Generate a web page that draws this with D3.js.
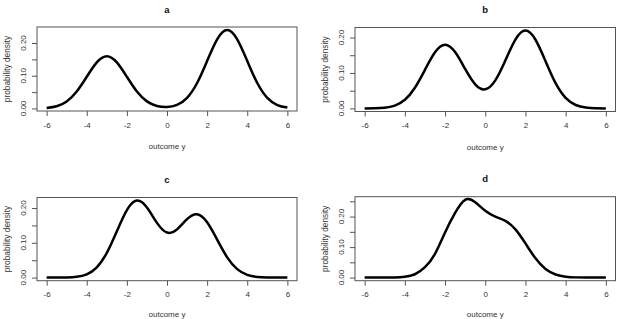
<!DOCTYPE html>
<html>
<head>
<meta charset="utf-8">
<script src="https://cdn.jsdelivr.net/npm/d3@7"></script>
<style>
  body { margin: 0; background: #fff; }
  svg { display: block; font-family: "Liberation Sans", Arial, sans-serif; }
</style>
</head>
<body>
<svg id="densities" width="620" height="319"></svg>
<script>
(() => {

    // chart values
    const outcome_y = [-6, -5.5, -5, -4.5, -4, -3.5, -3, -2.5, -2, -1.5, -1, -0.5, 0,
        0.5, 1, 1.5, 2, 2.5, 3, 3.5, 4, 4.5, 5, 5.5, 6];

    const density_a = [0.0018, 0.0070, 0.0216, 0.0518, 0.0968, 0.1408, 0.1596, 0.1408, 0.0968, 0.0518, 0.0217, 0.0075, 0.0044,
        0.0109, 0.0325, 0.0777, 0.1452, 0.2113, 0.2394, 0.2113, 0.1452, 0.0777, 0.0324, 0.0105, 0.0027];

    const density_b = [0.0001, 0.0004, 0.0020, 0.0079, 0.0243, 0.0583, 0.1089, 0.1584, 0.1796, 0.1589, 0.1113, 0.0679, 0.0540,
        0.0791, 0.1351, 0.1941, 0.2195, 0.1937, 0.1331, 0.0712, 0.0297, 0.0096, 0.0024, 0.0005, 0.0001];

    const density_c = [0.0000, 0.0001, 0.0005, 0.0024, 0.0096, 0.0297, 0.0712, 0.1332, 0.1941, 0.2214, 0.2016, 0.1574, 0.1295,
        0.1386, 0.1680, 0.1819, 0.1589, 0.1090, 0.0583, 0.0243, 0.0079, 0.0020, 0.0004, 0.0001, 0.0000];

    const density_d = [0.0000, 0.0000, 0.0001, 0.0005, 0.0030, 0.0110, 0.0340, 0.0780, 0.1480, 0.2120, 0.2550, 0.2470, 0.2190,
        0.2000, 0.1860, 0.1580, 0.1120, 0.0630, 0.0280, 0.0100, 0.0030, 0.0007, 0.0001, 0.0000, 0.0000];

    const x_ticks = [-6, -4, -2, 0, 2, 4, 6];
    const y_ticks_short = [0, 0.05, 0.1, 0.15, 0.2];
    const y_ticks_long = [0, 0.05, 0.1, 0.15, 0.2, 0.25];
    const y_tick_labels = [0, 0.1, 0.2];
    const panel_titles = ['a', 'b', 'c', 'd'];

    // plot boxes (left, right, top, bottom) in page pixels
    const boxes = [
        { l: 37, r: 297, t: 27, b: 111 },
        { l: 355, r: 615.5, t: 27.5, b: 111.5 },
        { l: 37, r: 297, t: 197.5, b: 280.7 },
        { l: 355, r: 615.5, t: 196.7, b: 280.7 }
    ];
    const series = [density_a, density_b, density_c, density_d];
    const y_ticks = [y_ticks_short, y_ticks_short, y_ticks_short, y_ticks_long];

    const text_color = '#333';
    const axis_color = '#555';

    let svg = d3.select('#densities');

    // R style 4% axis extension
    let pad = (lo, hi) => [lo - 0.04 * (hi - lo), hi + 0.04 * (hi - lo)];

    panel_titles.forEach((title, i) => {
        let box = boxes[i];
        let values = series[i];

        let x_scale = d3.scaleLinear()
            .domain(pad(d3.min(outcome_y), d3.max(outcome_y)))
            .range([box.l, box.r]);

        let y_scale = d3.scaleLinear()
            .domain(pad(d3.min(values), d3.max(values)))
            .range([box.b, box.t]);

        let g = svg.append('g');

        // box
        g.append('rect')
            .attr('x', box.l)
            .attr('y', box.t)
            .attr('width', box.r - box.l)
            .attr('height', box.b - box.t)
            .attr('fill', 'none')
            .attr('stroke', axis_color)
            .attr('stroke-width', 1);

        // x axis
        let x_axis = d3.axisBottom(x_scale)
            .tickValues(x_ticks)
            .tickSize(5)
            .tickPadding(6)
            .tickFormat((d) => String(d));

        let xg = g.append('g')
            .attr('transform', `translate(0, ${box.b})`)
            .call(x_axis);
        xg.select('.domain').remove();
        xg.selectAll('line').attr('stroke', axis_color);
        xg.selectAll('text')
            .attr('fill', text_color)
            .style('font-size', '8px')
            .style('font-family', '"Liberation Sans", Arial, sans-serif');

        // y axis, tick labels parallel to the axis
        let y_axis = d3.axisLeft(y_scale)
            .tickValues(y_ticks[i])
            .tickSize(5)
            .tickFormat('');

        let yg = g.append('g')
            .attr('transform', `translate(${box.l}, 0)`)
            .call(y_axis);
        yg.select('.domain').remove();
        yg.selectAll('line').attr('stroke', axis_color);

        g.selectAll('.ylab')
            .data(y_tick_labels)
            .enter()
            .append('text')
            .attr('class', 'ylab')
            .attr('transform', (d) => `translate(${box.l - 11}, ${y_scale(d)}) rotate(-90)`)
            .attr('text-anchor', 'middle')
            .attr('fill', text_color)
            .style('font-size', '8px')
            .text(d3.format('.2f'));

        // curve
        g.append('path')
            .datum(outcome_y.map((x, k) => [x, values[k]]))
            .attr('fill', 'none')
            .attr('stroke', '#000')
            .attr('stroke-width', 2.5)
            .attr('stroke-linejoin', 'round')
            .attr('d', d3.line()
                .x((d) => x_scale(d[0]))
                .y((d) => y_scale(d[1]))
                .curve(d3.curveNatural));

        // titles and labels
        g.append('text')
            .attr('x', (box.l + box.r) / 2)
            .attr('y', box.t - 14.5)
            .attr('text-anchor', 'middle')
            .attr('fill', '#111')
            .style('font-size', '9.5px')
            .style('font-weight', 'bold')
            .text(title);

        g.append('text')
            .attr('x', (box.l + box.r) / 2)
            .attr('y', Math.min(box.b + 38, 316.5))
            .attr('text-anchor', 'middle')
            .attr('fill', text_color)
            .style('font-size', '8px')
            .text('outcome y');

        g.append('text')
            .attr('transform', `translate(${box.l - 27}, ${(box.t + box.b) / 2}) rotate(-90)`)
            .attr('text-anchor', 'middle')
            .attr('fill', text_color)
            .style('font-size', '8.3px')
            .text('probability density');
    });

})();
</script>
</body>
</html>
